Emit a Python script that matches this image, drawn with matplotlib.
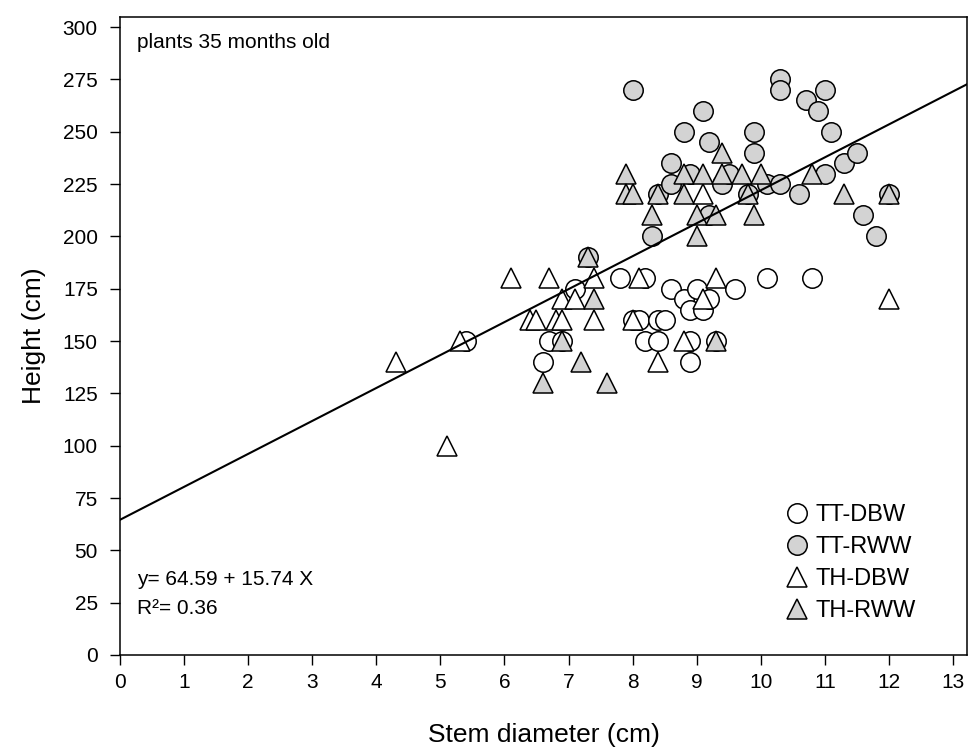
import numpy as np
import matplotlib
matplotlib.use("Agg")
import matplotlib.pyplot as plt

plt.rcParams["font.family"] = ["Liberation Sans", "DejaVu Sans"]

# TT-DBW (open circles)
tt_dbw_x = [5.4, 6.6, 6.7, 6.9, 7.1, 7.8, 8.0, 8.1, 8.2, 8.2, 8.4, 8.5, 8.4,
            8.6, 8.8, 8.9, 8.9, 8.9, 9.0, 9.1, 9.2, 9.3, 9.6, 10.1, 10.8]
tt_dbw_y = [150, 140, 150, 150, 175, 180, 160, 160, 180, 150, 160, 160, 150,
            175, 170, 165, 150, 140, 175, 165, 170, 150, 175, 180, 180]

# TT-RWW (grey circles)
tt_rww_x = [7.3, 8.0, 8.3, 8.4, 8.6, 8.6, 8.8, 8.9, 9.1, 9.2, 9.2, 9.4, 9.5,
            9.8, 9.9, 9.9, 10.1, 10.3, 10.3, 10.3, 10.6, 10.7, 10.9, 11.0,
            11.0, 11.1, 11.3, 11.5, 11.6, 11.8, 12.0]
tt_rww_y = [190, 270, 200, 220, 235, 225, 250, 230, 260, 245, 210, 225, 230,
            220, 250, 240, 225, 275, 270, 225, 220, 265, 260, 270,
            230, 250, 235, 240, 210, 200, 220]

# TH-DBW (open triangles)
th_dbw_x = [4.3, 5.1, 5.3, 6.1, 6.4, 6.5, 6.7, 6.8, 6.9, 6.9, 7.1, 7.4, 7.4,
            8.0, 8.1, 8.4, 8.8, 9.1, 9.1, 9.3, 12.0]
th_dbw_y = [140, 100, 150, 180, 160, 160, 180, 160, 160, 170, 170, 180, 160,
            160, 180, 140, 150, 170, 220, 180, 170]

# TH-RWW (grey triangles)
th_rww_x = [6.6, 6.9, 7.2, 7.3, 7.4, 7.6, 7.9, 7.9, 8.0, 8.3, 8.4, 8.8, 8.8,
            9.0, 9.0, 9.1, 9.3, 9.3, 9.4, 9.4, 9.7, 9.8, 9.9, 10.0, 10.8,
            11.3, 12.0]
th_rww_y = [130, 150, 140, 190, 170, 130, 230, 220, 220, 210, 220, 230, 220,
            210, 200, 230, 210, 150, 240, 230, 230, 220, 210, 230, 230,
            220, 220]

intercept = 64.59
slope = 15.74
r2 = 0.36

GREY = "#d3d3d3"

fig = plt.figure(figsize=(9.7, 7.54), dpi=100)
ax = fig.add_axes([0.1237, 0.1313, 0.8733, 0.8462])

mk = dict(markersize=14, markeredgecolor="black", markeredgewidth=1.1,
          linestyle="none")
ax.plot(tt_dbw_x, tt_dbw_y, "o", markerfacecolor="white", label="TT-DBW",
        zorder=3, **mk)
ax.plot(tt_rww_x, tt_rww_y, "o", markerfacecolor=GREY, label="TT-RWW",
        zorder=3, **mk)
ax.plot(th_dbw_x, th_dbw_y, "^", markerfacecolor="white", label="TH-DBW",
        zorder=4, **mk)
ax.plot(th_rww_x, th_rww_y, "^", markerfacecolor=GREY, label="TH-RWW",
        zorder=4, **mk)

xl = np.array([0, 13.5])
ax.plot(xl, intercept + slope * xl, color="black", linewidth=1.5, zorder=5)

ax.set_xlim(0, 13.22)
ax.set_ylim(0, 304.8)
ax.set_xticks(range(0, 14))
ax.set_yticks(range(0, 301, 25))
ax.tick_params(direction="out", length=7, width=1, labelsize=15)
ax.tick_params(axis="x", pad=6)
ax.tick_params(axis="y", pad=9)
for s in ax.spines.values():
    s.set_linewidth(1.1)

ax.set_xlabel("Stem diameter (cm)", fontsize=19, labelpad=22)
ax.set_ylabel("Height (cm)", fontsize=19, labelpad=12)

ax.text(0.02, 0.975, "plants 35 months old", transform=ax.transAxes,
        fontsize=15, va="top", ha="left")
ax.text(0.02, 0.118, f"y= {intercept} + {slope} X", transform=ax.transAxes,
        fontsize=15, va="center", ha="left")
ax.text(0.02, 0.073, f"R\u00b2= {r2}", transform=ax.transAxes,
        fontsize=15, va="center", ha="left")

ax.legend(loc="upper left", bbox_to_anchor=(0.785, 0.237), frameon=False,
          fontsize=17, handletextpad=0.3, labelspacing=0.43,
          borderpad=0, borderaxespad=0, handlelength=1.0)

fig.savefig("out.png", dpi=100)
